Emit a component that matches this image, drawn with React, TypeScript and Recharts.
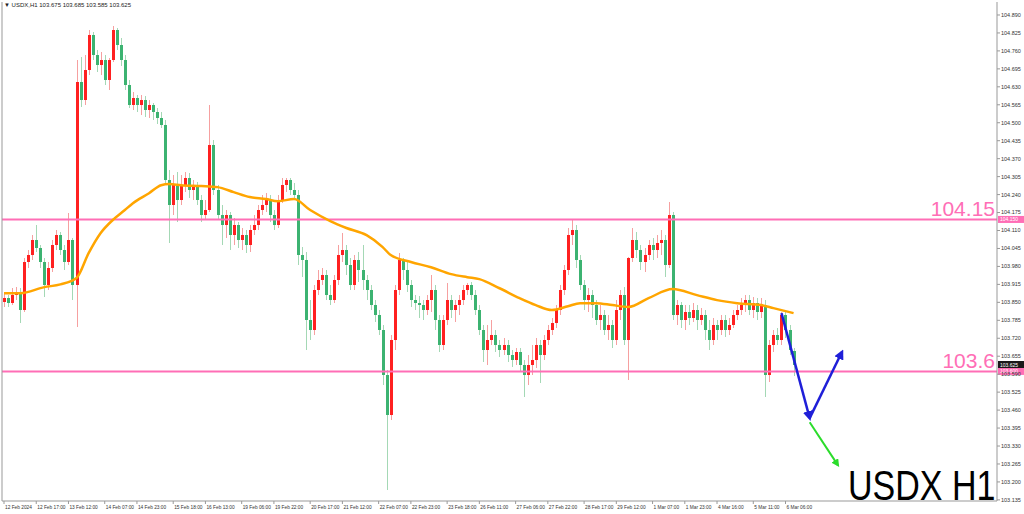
import React from 'react';
import { ComposedChart, Bar, Line, XAxis, YAxis, ReferenceLine } from 'recharts';

// 2-hour slots across the whole plot width (candles + room for the projection)
const SLOTS = 247;

const timeLabels = [
  '12 Feb 2024', '12 Feb 17:00', '13 Feb 12:00', '14 Feb 07:00', '14 Feb 23:00', '15 Feb 18:00',
  '16 Feb 13:00', '19 Feb 06:00', '19 Feb 22:00', '20 Feb 17:00', '21 Feb 12:00', '22 Feb 07:00',
  '22 Feb 23:00', '23 Feb 18:00', '26 Feb 11:00', '27 Feb 06:00', '27 Feb 22:00', '28 Feb 17:00',
  '29 Feb 12:00', '1 Mar 07:00', '1 Mar 23:00', '4 Mar 16:00', '5 Mar 11:00', '6 Mar 06:00',
];

const yTicks = [
  103.135, 103.2, 103.265, 103.33, 103.395, 103.46, 103.525, 103.59, 103.655, 103.72,
  103.785, 103.85, 103.915, 103.98, 104.045, 104.11, 104.175, 104.24, 104.305, 104.37,
  104.435, 104.5, 104.565, 104.63, 104.695, 104.76, 104.825, 104.89,
];

const opens = [
  103.851, 103.865, 103.847, 103.876, 103.887, 103.822, 103.996, 104.021, 104.075, 104.046,
  103.996, 103.912, 103.974, 104.057, 104.093, 104.039, 103.996, 104.075, 103.912, 104.647,
  104.582, 104.691, 104.817, 104.745, 104.709, 104.727, 104.654, 104.727, 104.835, 104.781,
  104.727, 104.636, 104.564, 104.589, 104.564, 104.582, 104.546, 104.564, 104.539, 104.517,
  104.492, 104.292, 104.202, 104.274, 104.220, 104.274, 104.300, 104.256, 104.274, 104.220,
  104.166, 104.184, 104.419, 104.256, 104.166, 104.129, 104.166, 104.093, 104.129, 104.075,
  104.093, 104.057, 104.111, 104.129, 104.184, 104.202, 104.220, 104.166, 104.129, 104.220,
  104.274, 104.292, 104.256, 104.238, 104.021, 104.003, 103.786, 103.749, 103.894, 103.930,
  103.949, 103.876, 103.858, 103.930, 104.021, 104.039, 103.985, 103.912, 104.003, 103.967,
  103.930, 103.894, 103.840, 103.804, 103.749, 103.587, 103.442, 103.713, 103.894, 104.003,
  103.967, 103.912, 103.858, 103.847, 103.840, 103.822, 103.858, 103.894, 103.786, 103.695,
  103.786, 103.858, 103.822, 103.840, 103.858, 103.894, 103.912, 103.876, 103.822, 103.749,
  103.677, 103.713, 103.731, 103.695, 103.677, 103.695, 103.659, 103.641, 103.670, 103.623,
  103.587, 103.623, 103.641, 103.695, 103.659, 103.713, 103.749, 103.775, 103.822, 103.894,
  103.967, 104.093, 104.111, 104.003, 103.912, 103.858, 103.876, 103.840, 103.786, 103.804,
  103.749, 103.768, 103.713, 103.822, 103.876, 103.713, 104.010, 104.075, 104.039, 103.996,
  104.021, 104.057, 104.039, 104.064, 104.075, 103.985, 104.166, 103.804, 103.840, 103.786,
  103.815, 103.793, 103.822, 103.786, 103.804, 103.749, 103.713, 103.768, 103.749, 103.786,
  103.749, 103.768, 103.804, 103.822, 103.840, 103.858, 103.822, 103.847, 103.815, 103.840,
  103.587, 103.695, 103.731, 103.713, 103.804, 103.749, 103.675,
];

const highs = [
  103.887, 103.876, 103.901, 103.905, 103.901, 104.010, 104.039, 104.093, 104.129, 104.057,
  104.010, 103.996, 104.075, 104.111, 104.104, 104.057, 104.173, 104.082, 104.727, 104.738,
  104.745, 104.835, 104.828, 104.763, 104.756, 104.745, 104.734, 104.850, 104.843, 104.806,
  104.745, 104.654, 104.611, 104.600, 104.600, 104.596, 104.582, 104.571, 104.553, 104.539,
  104.510, 104.329, 104.311, 104.321, 104.311, 104.321, 104.318, 104.292, 104.285, 104.238,
  104.220, 104.564, 104.437, 104.274, 104.202, 104.184, 104.177, 104.155, 104.140, 104.119,
  104.111, 104.129, 104.166, 104.202, 104.238, 104.245, 104.238, 104.184, 104.238, 104.300,
  104.300, 104.300, 104.282, 104.256, 104.050, 104.032, 103.858, 103.912, 103.967, 103.974,
  103.967, 103.912, 103.949, 104.057, 104.101, 104.057, 104.010, 104.021, 104.032, 104.057,
  103.949, 103.912, 103.858, 103.822, 103.768, 103.605, 103.731, 103.912, 104.028, 104.010,
  103.996, 103.930, 103.876, 103.872, 103.858, 103.876, 103.949, 103.912, 103.804, 103.804,
  103.920, 103.876, 103.858, 103.876, 103.912, 103.920, 103.923, 103.894, 103.840, 103.768,
  103.768, 103.786, 103.749, 103.713, 103.720, 103.713, 103.677, 103.684, 103.684, 103.641,
  103.659, 103.695, 103.720, 103.713, 103.731, 103.768, 103.793, 103.840, 103.912, 103.985,
  104.119, 104.148, 104.129, 104.021, 103.930, 103.901, 103.894, 103.858, 103.840, 103.822,
  103.804, 103.786, 103.858, 103.894, 103.905, 104.014, 104.119, 104.104, 104.057, 104.046,
  104.075, 104.082, 104.093, 104.111, 104.093, 104.213, 104.177, 103.858, 103.851, 103.840,
  103.840, 103.847, 103.840, 103.829, 103.822, 103.786, 103.793, 103.786, 103.804, 103.804,
  103.793, 103.822, 103.840, 103.865, 103.876, 103.876, 103.869, 103.865, 103.865, 103.858,
  103.713, 103.749, 103.757, 103.815, 103.815, 103.768, 103.685,
];

const lows = [
  103.833, 103.833, 103.840, 103.858, 103.775, 103.815, 103.974, 104.003, 104.032, 103.974,
  103.869, 103.894, 103.959, 104.039, 104.021, 103.967, 103.985, 103.858, 103.760, 104.557,
  104.564, 104.673, 104.727, 104.683, 104.673, 104.636, 104.618, 104.720, 104.763, 104.705,
  104.618, 104.553, 104.546, 104.539, 104.528, 104.520, 104.517, 104.510, 104.495, 104.481,
  104.274, 104.064, 104.166, 104.140, 104.202, 104.249, 104.227, 104.220, 104.202, 104.140,
  104.148, 104.177, 104.238, 104.148, 104.057, 104.082, 104.039, 104.057, 104.046, 104.039,
  104.028, 104.032, 104.093, 104.111, 104.166, 104.177, 104.140, 104.111, 104.119, 104.209,
  104.249, 104.238, 104.220, 103.985, 103.941, 103.677, 103.713, 103.731, 103.876, 103.912,
  103.858, 103.840, 103.847, 103.912, 103.996, 103.949, 103.894, 103.894, 103.923, 103.894,
  103.858, 103.822, 103.778, 103.731, 103.550, 103.170, 103.424, 103.677, 103.876, 103.930,
  103.887, 103.833, 103.822, 103.793, 103.786, 103.804, 103.815, 103.749, 103.670, 103.677,
  103.768, 103.793, 103.778, 103.804, 103.840, 103.876, 103.858, 103.804, 103.731, 103.634,
  103.623, 103.695, 103.670, 103.652, 103.659, 103.634, 103.615, 103.623, 103.598, 103.507,
  103.550, 103.587, 103.612, 103.558, 103.641, 103.695, 103.731, 103.757, 103.804, 103.876,
  103.949, 104.057, 103.974, 103.894, 103.822, 103.815, 103.793, 103.768, 103.749, 103.731,
  103.713, 103.684, 103.695, 103.786, 103.695, 103.568, 103.996, 104.010, 103.967, 103.959,
  104.003, 104.003, 104.010, 104.021, 103.941, 103.974, 103.786, 103.768, 103.757, 103.749,
  103.768, 103.778, 103.749, 103.768, 103.713, 103.677, 103.695, 103.713, 103.731, 103.724,
  103.731, 103.757, 103.786, 103.804, 103.815, 103.804, 103.793, 103.786, 103.793, 103.507,
  103.561, 103.670, 103.695, 103.695, 103.720, 103.659, 103.585,
];

const closes = [
  103.865, 103.847, 103.876, 103.887, 103.822, 103.996, 104.021, 104.075, 104.046, 103.996,
  103.912, 103.974, 104.057, 104.093, 104.039, 103.996, 104.075, 103.912, 104.647, 104.582,
  104.691, 104.817, 104.745, 104.709, 104.727, 104.654, 104.727, 104.835, 104.781, 104.727,
  104.636, 104.564, 104.589, 104.564, 104.582, 104.546, 104.564, 104.539, 104.517, 104.492,
  104.292, 104.202, 104.274, 104.220, 104.274, 104.300, 104.256, 104.274, 104.220, 104.166,
  104.184, 104.419, 104.256, 104.166, 104.129, 104.166, 104.093, 104.129, 104.075, 104.093,
  104.057, 104.111, 104.129, 104.184, 104.202, 104.220, 104.166, 104.129, 104.220, 104.274,
  104.292, 104.256, 104.238, 104.021, 104.003, 103.786, 103.749, 103.894, 103.930, 103.949,
  103.876, 103.858, 103.930, 104.021, 104.039, 103.985, 103.912, 104.003, 103.967, 103.930,
  103.894, 103.840, 103.804, 103.749, 103.587, 103.442, 103.713, 103.894, 104.003, 103.967,
  103.912, 103.858, 103.847, 103.840, 103.822, 103.858, 103.894, 103.786, 103.695, 103.786,
  103.858, 103.822, 103.840, 103.858, 103.894, 103.912, 103.876, 103.822, 103.749, 103.677,
  103.713, 103.731, 103.695, 103.677, 103.695, 103.659, 103.641, 103.670, 103.623, 103.587,
  103.623, 103.641, 103.695, 103.659, 103.713, 103.749, 103.775, 103.822, 103.894, 103.967,
  104.093, 104.111, 104.003, 103.912, 103.858, 103.876, 103.840, 103.786, 103.804, 103.749,
  103.768, 103.713, 103.822, 103.876, 103.713, 104.010, 104.075, 104.039, 103.996, 104.021,
  104.057, 104.039, 104.064, 104.075, 103.985, 104.166, 103.804, 103.840, 103.786, 103.815,
  103.793, 103.822, 103.786, 103.804, 103.749, 103.713, 103.768, 103.749, 103.786, 103.749,
  103.768, 103.804, 103.822, 103.840, 103.858, 103.822, 103.847, 103.815, 103.840, 103.587,
  103.695, 103.731, 103.713, 103.804, 103.749, 103.677, 103.625,
];

// moving average read at a handful of slots: [slot, price]
const maPoints: [number, number][] = [
  [0, 103.883], [4, 103.883], [10, 103.905], [14, 103.915], [18, 103.938], [21, 104.028],
  [24, 104.101], [27, 104.148], [30, 104.184], [32, 104.209], [36, 104.245], [39, 104.274],
  [41, 104.278], [44, 104.274], [49, 104.271], [53, 104.267], [57, 104.249], [61, 104.231],
  [65, 104.224], [68, 104.216], [72, 104.224], [76, 104.184], [81, 104.144], [85, 104.119],
  [90, 104.093], [94, 104.05], [96, 104.021], [101, 103.996], [106, 103.977], [111, 103.952],
  [115, 103.941], [118, 103.934], [123, 103.901], [128, 103.865], [132, 103.84], [136, 103.822],
  [140, 103.836], [143, 103.847], [147, 103.847], [151, 103.84], [155, 103.833], [160, 103.865],
  [166, 103.898], [172, 103.876], [177, 103.858], [182, 103.847], [188, 103.84], [191, 103.829],
  [196, 103.811],
];

// drawn projection arrows: [slot, price]
const projDown: [number, number][] = [[193, 103.811], [200, 103.431]];
const projUp: [number, number][] = [[200, 103.431], [208, 103.67]];
const projAlt: [number, number][] = [[200, 103.416], [207, 103.261]];

const levelHigh = 104.15;
const levelLow = 103.6;
const lastPrice = 103.625;
const symbol = 'USDX,H1';
const lastBar = [103.675, 103.685, 103.585, 103.625];

const PINK = '#ff6eb6';
const FONT = "Arial, 'Liberation Sans', sans-serif";

const maMap = new Map(maPoints);
const downMap = new Map(projDown);
const upMap = new Map(projUp);
const altMap = new Map(projAlt);

const data = Array.from({ length: SLOTS }, (_, i) => {
  const has = i < closes.length;
  return {
    slot: i,
    o: has ? opens[i] : null,
    h: has ? highs[i] : null,
    l: has ? lows[i] : null,
    c: has ? closes[i] : null,
    range: has ? [lows[i], highs[i]] : null,
    ma: maMap.get(i) ?? null,
    down: downMap.get(i) ?? null,
    up: upMap.get(i) ?? null,
    alt: altMap.get(i) ?? null,
  };
});

const tickSlots = timeLabels.map((_, k) => Math.max(0, Math.round(8.474 * k - 0.5)));
const labelBySlot = new Map(tickSlots.map((s, k) => [s, timeLabels[k]]));

function Candle(props: any) {
  const { x, y, width, height, payload } = props;
  if (!payload || payload.c == null || x == null || y == null) return null;
  const { o, h, l, c } = payload;
  const top = Math.min(y, y + height);
  const span = Math.abs(height);
  const k = h > l ? span / (h - l) : 0;
  const cx = Math.round(x + width / 2) - 1;
  const bull = c >= o;
  const bodyTop = top + (h - Math.max(o, c)) * k;
  const bodyH = Math.max(1, Math.abs(c - o) * k);
  return (
    <g shapeRendering="crispEdges">
      <rect x={cx + 1} y={top} width={1} height={Math.max(1, span)} fill={bull ? '#f6a0a0' : '#a4d8b5'} />
      <rect x={cx} y={bodyTop} width={3} height={bodyH} fill={bull ? '#ff2020' : '#3cb371'} />
    </g>
  );
}

function TimeTick(props: any) {
  const { x, y, payload } = props;
  const label = labelBySlot.get(payload.value);
  if (!label) return null;
  return (
    <text x={x + 1} y={y} dy="0.71em" fontSize={4.8} fill="#333" fontFamily={FONT}>
      {label}
    </text>
  );
}

function LevelLabel(props: any) {
  const { viewBox, text, tag, tagFill } = props;
  if (!viewBox) return null;
  const right = viewBox.x + viewBox.width;
  const ly = viewBox.y;
  return (
    <g>
      {text && (
        <text x={right - 2} y={ly - 3} textAnchor="end" fontSize={21} fill={PINK} fontFamily={FONT}>
          {text}
        </text>
      )}
      <rect x={right + 1} y={ly - 3.5} width={26} height={7} fill={tagFill} />
      <text x={right + 3} y={ly + 2} fontSize={5} fill="#fff" fontFamily={FONT}>
        {tag}
      </text>
    </g>
  );
}

export default function App() {
  return (
    <div style={{ position: 'absolute', left: 0, top: 0, width: 1024, height: 514, background: '#fff', overflow: 'hidden' }}>
      <svg width={0} height={0} style={{ position: 'absolute' }}>
        <defs>
          <marker id="arrow-blue" viewBox="0 0 10 10" refX="7" refY="5" markerWidth="4" markerHeight="4" orient="auto">
            <path d="M0,0 L10,5 L0,10 z" fill="#1f1fd8" />
          </marker>
          <marker id="arrow-green" viewBox="0 0 10 10" refX="7" refY="5" markerWidth="4" markerHeight="4" orient="auto">
            <path d="M0,0 L10,5 L0,10 z" fill="#2bdc2b" />
          </marker>
        </defs>
      </svg>
      <ComposedChart width={1024} height={514} data={data} margin={{ top: 2, right: 0, bottom: 0, left: 1 }}
        barCategoryGap={0}>
        <XAxis dataKey="slot" type="category" ticks={tickSlots} interval={0} tick={<TimeTick />}
          tickSize={3} tickMargin={2} height={13} axisLine={{ stroke: '#999' }} tickLine={{ stroke: '#999' }} />
        <YAxis yAxisId="frame" orientation="left" width={1} tick={false} tickLine={false}
          axisLine={{ stroke: '#999' }} domain={[103.131, 104.937]} />
        <YAxis yAxisId="p" orientation="right" width={27} domain={[103.131, 104.937]} allowDataOverflow
          ticks={yTicks} interval={0} tickFormatter={(v: number) => v.toFixed(3)}
          tick={{ fontSize: 5.5, fill: '#333', fontFamily: FONT }}
          tickSize={3} tickMargin={1} axisLine={{ stroke: '#999' }} tickLine={{ stroke: '#999' }} />
        <ReferenceLine yAxisId="p" y={levelHigh} stroke={PINK} strokeWidth={2}
          label={<LevelLabel text="104.15" tag={levelHigh.toFixed(3)} tagFill={PINK} />} />
        <ReferenceLine yAxisId="p" y={levelLow} stroke={PINK} strokeWidth={2}
          label={<LevelLabel text="103.6" tag={levelLow.toFixed(3)} tagFill={PINK} />} />
        <Bar yAxisId="p" dataKey="range" shape={<Candle />} isAnimationActive={false} />
        <Line yAxisId="p" dataKey="ma" type="monotone" stroke="#ffa500" strokeWidth={2.5} dot={false}
          connectNulls isAnimationActive={false} />
        <ReferenceLine yAxisId="p" y={lastPrice} stroke="none"
          label={<LevelLabel tag={lastPrice.toFixed(3)} tagFill="#1a1a1a" />} />
        <Line yAxisId="p" dataKey="down" type="linear" stroke="#1f1fd8" strokeWidth={2.5} dot={false}
          connectNulls isAnimationActive={false} markerEnd="url(#arrow-blue)" />
        <Line yAxisId="p" dataKey="up" type="linear" stroke="#1f1fd8" strokeWidth={2.5} dot={false}
          connectNulls isAnimationActive={false} markerEnd="url(#arrow-blue)" />
        <Line yAxisId="p" dataKey="alt" type="linear" stroke="#2bdc2b" strokeWidth={2} dot={false}
          connectNulls isAnimationActive={false} markerEnd="url(#arrow-green)" />
      </ComposedChart>
      <div style={{ position: 'absolute', left: 4, top: 2, fontSize: 6, color: '#222', fontFamily: FONT, whiteSpace: 'nowrap' }}>
        {'\u25BC ' + symbol + ' ' + lastBar.map((v) => v.toFixed(3)).join(' ')}
      </div>
      <div style={{ position: 'absolute', left: 848, top: 462, fontSize: 42, lineHeight: '48px', color: '#000', fontFamily: FONT, whiteSpace: 'nowrap', transform: 'scaleX(0.81)', transformOrigin: 'left top' }}>
        USDX H1
      </div>
    </div>
  );
}
